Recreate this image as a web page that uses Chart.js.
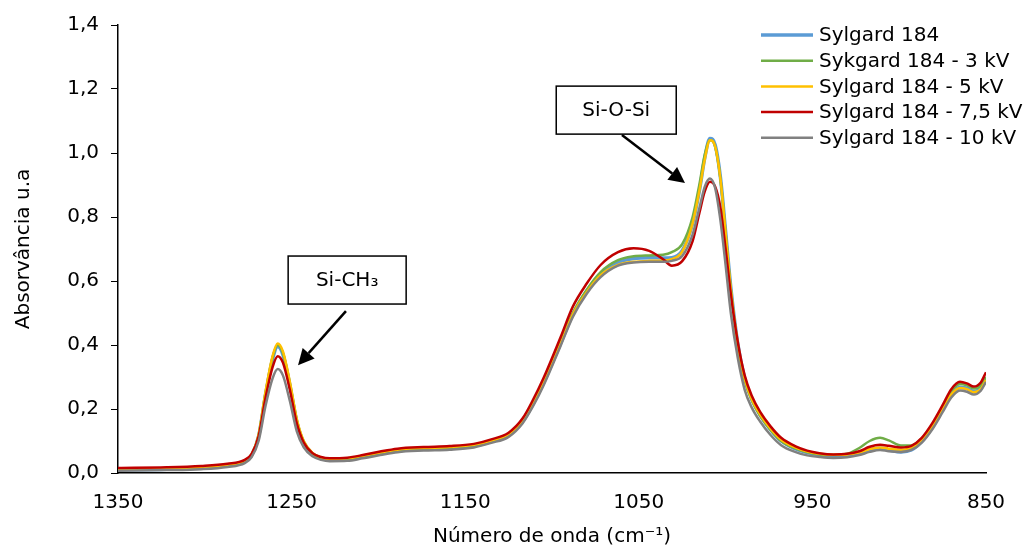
<!DOCTYPE html>
<html>
<head>
<meta charset="utf-8">
<script src="https://cdn.jsdelivr.net/npm/chart.js@4.4.0/dist/chart.umd.min.js"></script>
<style>
  html, body { margin: 0; padding: 0; background: #fff; }
  #wrap { width: 1034px; height: 551px; }
</style>
</head>
<body>
<div id="wrap"><canvas id="myChartFTIR"></canvas></div>
<script>
// FTIR spectra, wavenumber axis runs right to left
var wavenumbers = [1350, 1322, 1302, 1287, 1277, 1273, 1269, 1265, 1261, 1258,
  1255, 1251, 1247, 1243, 1238, 1233, 1228, 1218, 1209, 1199,
  1189, 1174, 1159, 1145, 1135, 1125, 1117, 1111, 1105, 1095,
  1088, 1080, 1072, 1062, 1053, 1044, 1036, 1031, 1025, 1019,
  1015, 1012, 1009, 1006, 1003, 1000, 997, 993, 989, 985,
  980, 974, 968, 960, 953, 946, 938, 930, 923, 917,
  911, 906, 899, 893, 887, 881, 875, 870, 865, 861,
  857, 853, 850];

var sylgard = [0.010, 0.012, 0.016, 0.023, 0.036, 0.056, 0.115, 0.245, 0.355, 0.395,
  0.370, 0.275, 0.160, 0.095, 0.060, 0.046, 0.041, 0.042, 0.050, 0.060,
  0.069, 0.074, 0.077, 0.084, 0.098, 0.118, 0.160, 0.215, 0.280, 0.405,
  0.495, 0.568, 0.622, 0.657, 0.670, 0.673, 0.672, 0.673, 0.695, 0.780,
  0.885, 0.985, 1.045, 1.025, 0.925, 0.755, 0.580, 0.405, 0.295, 0.232,
  0.180, 0.135, 0.100, 0.076, 0.064, 0.057, 0.054, 0.055, 0.062, 0.072,
  0.077, 0.072, 0.066, 0.072, 0.098, 0.142, 0.198, 0.245, 0.268, 0.265,
  0.255, 0.265, 0.292];

var sylgard3kV = [0.011, 0.013, 0.017, 0.024, 0.037, 0.057, 0.118, 0.250, 0.360, 0.400,
  0.375, 0.280, 0.165, 0.097, 0.061, 0.047, 0.042, 0.043, 0.051, 0.061,
  0.070, 0.075, 0.078, 0.085, 0.099, 0.119, 0.162, 0.217, 0.282, 0.408,
  0.500, 0.573, 0.628, 0.665, 0.677, 0.680, 0.682, 0.690, 0.715, 0.800,
  0.905, 0.995, 1.040, 1.020, 0.920, 0.750, 0.575, 0.400, 0.290, 0.228,
  0.178, 0.134, 0.100, 0.077, 0.065, 0.058, 0.056, 0.060, 0.078, 0.100,
  0.110, 0.102, 0.086, 0.086, 0.108, 0.150, 0.205, 0.255, 0.278, 0.274,
  0.264, 0.274, 0.300];

var sylgard5kV = [0.013, 0.015, 0.019, 0.026, 0.039, 0.059, 0.120, 0.255, 0.365, 0.405,
  0.380, 0.285, 0.168, 0.100, 0.063, 0.049, 0.044, 0.046, 0.054, 0.064,
  0.073, 0.078, 0.081, 0.088, 0.101, 0.121, 0.163, 0.218, 0.282, 0.405,
  0.495, 0.565, 0.618, 0.650, 0.660, 0.663, 0.664, 0.668, 0.692, 0.780,
  0.885, 0.980, 1.040, 1.020, 0.920, 0.750, 0.575, 0.405, 0.295, 0.232,
  0.182, 0.138, 0.104, 0.080, 0.067, 0.060, 0.057, 0.058, 0.064, 0.075,
  0.080, 0.076, 0.073, 0.078, 0.102, 0.145, 0.198, 0.245, 0.266, 0.262,
  0.252, 0.262, 0.290];

var sylgard7_5kV = [0.016, 0.018, 0.022, 0.029, 0.041, 0.060, 0.115, 0.235, 0.330, 0.365,
  0.345, 0.260, 0.155, 0.095, 0.062, 0.050, 0.046, 0.048, 0.056, 0.067,
  0.076, 0.081, 0.084, 0.091, 0.105, 0.126, 0.170, 0.228, 0.295, 0.425,
  0.520, 0.592, 0.650, 0.690, 0.702, 0.694, 0.668, 0.648, 0.662, 0.725,
  0.815, 0.880, 0.910, 0.895, 0.830, 0.700, 0.560, 0.410, 0.305, 0.242,
  0.190, 0.145, 0.110, 0.084, 0.070, 0.062, 0.058, 0.060, 0.068, 0.082,
  0.088, 0.085, 0.080, 0.085, 0.110, 0.155, 0.212, 0.262, 0.285, 0.280,
  0.270, 0.283, 0.315];

var sylgard10kV = [0.007, 0.009, 0.012, 0.019, 0.031, 0.050, 0.100, 0.210, 0.295, 0.325,
  0.305, 0.225, 0.130, 0.080, 0.052, 0.041, 0.037, 0.038, 0.046, 0.056,
  0.065, 0.070, 0.073, 0.080, 0.094, 0.113, 0.155, 0.208, 0.272, 0.398,
  0.488, 0.560, 0.612, 0.648, 0.658, 0.660, 0.660, 0.663, 0.678, 0.745,
  0.830, 0.895, 0.920, 0.890, 0.790, 0.650, 0.500, 0.360, 0.260, 0.205,
  0.160, 0.118, 0.087, 0.066, 0.055, 0.050, 0.047, 0.049, 0.056, 0.066,
  0.072, 0.068, 0.066, 0.072, 0.095, 0.136, 0.190, 0.236, 0.258, 0.254,
  0.245, 0.257, 0.285];

var seriesNames = ["Sylgard 184", "Sykgard 184 - 3 kV", "Sylgard 184 - 5 kV", "Sylgard 184 - 7,5 kV", "Sylgard 184 - 10 kV"];
var seriesColors = ["#5B9BD5", "#70AD47", "#FFC000", "#C00000", "#808080"];

var xTickLabels = ["850", "950", "1050", "1150", "1250", "1350"];
var yTickLabels = ["0,0", "0,2", "0,4", "0,6", "0,8", "1,0", "1,2", "1,4"];

// annotation boxes, anchored in data units (wavenumber, absorbance)
var notes = [
  { text: "Si-CH\u2083", box: [1218, 0.603], from: [1218.7, 0.506], to: [1246.3, 0.337], w: 118, h: 48 },
  { text: "Si-O-Si", box: [1063, 1.134], from: [1059.7, 1.056], to: [1023.4, 0.906], w: 120, h: 48 }
];

var FONT = "'DejaVu Sans', sans-serif";

function toPoints(ys) {
  return ys.map(function (y, i) { return { x: wavenumbers[i], y: y }; });
}

var allSeries = [sylgard, sylgard3kV, sylgard5kV, sylgard7_5kV, sylgard10kV];
var datasets = allSeries.map(function (ys, i) {
  return {
    label: seriesNames[i],
    data: toPoints(ys),
    borderColor: seriesColors[i],
    backgroundColor: seriesColors[i],
    borderWidth: i === 0 ? 3.5 : 2.5,
    pointRadius: 0,
    cubicInterpolationMode: 'monotone',
    fill: false,
    order: 4 - i
  };
});

var legendPlugin = {
  id: 'sideLegend',
  afterDraw: function (chart) {
    var ctx = chart.ctx;
    ctx.save();
    ctx.font = "20px " + FONT;
    ctx.textBaseline = 'middle';
    ctx.textAlign = 'left';
    chart.data.datasets.forEach(function (ds, i) {
      var y = 35 + i * 25.7;
      ctx.strokeStyle = ds.borderColor;
      ctx.lineWidth = ds.borderWidth;
      ctx.beginPath();
      ctx.moveTo(761, y);
      ctx.lineTo(813, y);
      ctx.stroke();
      ctx.fillStyle = '#000';
      ctx.fillText(ds.label, 819, y + 1);
    });
    ctx.restore();
  }
};

var notePlugin = {
  id: 'notes',
  afterDraw: function (chart) {
    var ctx = chart.ctx;
    var xs = chart.scales.x, ys = chart.scales.y;
    ctx.save();
    notes.forEach(function (n) {
      var cx = xs.getPixelForValue(n.box[0]);
      var cy = ys.getPixelForValue(n.box[1]);
      ctx.fillStyle = '#fff';
      ctx.fillRect(cx - n.w / 2, cy - n.h / 2, n.w, n.h);
      ctx.strokeStyle = '#000';
      ctx.lineWidth = 1.5;
      ctx.strokeRect(cx - n.w / 2, cy - n.h / 2, n.w, n.h);
      ctx.fillStyle = '#000';
      ctx.font = "20px " + FONT;
      ctx.textAlign = 'center';
      ctx.textBaseline = 'middle';
      ctx.fillText(n.text, cx, cy + 1);

      // arrow
      var x1 = xs.getPixelForValue(n.from[0]), y1 = ys.getPixelForValue(n.from[1]);
      var x2 = xs.getPixelForValue(n.to[0]), y2 = ys.getPixelForValue(n.to[1]);
      var ang = Math.atan2(y2 - y1, x2 - x1);
      var head = 16, half = 8;
      var bx = x2 - head * Math.cos(ang), by = y2 - head * Math.sin(ang);
      ctx.lineWidth = 2.5;
      ctx.beginPath();
      ctx.moveTo(x1, y1);
      ctx.lineTo(bx, by);
      ctx.stroke();
      ctx.beginPath();
      ctx.moveTo(x2, y2);
      ctx.lineTo(bx + half * Math.sin(ang), by - half * Math.cos(ang));
      ctx.lineTo(bx - half * Math.sin(ang), by + half * Math.cos(ang));
      ctx.closePath();
      ctx.fill();
    });
    ctx.restore();
  }
};

var ctx = document.getElementById("myChartFTIR").getContext('2d');
var chart = new Chart(ctx, {
  type: 'line',
  data: { datasets: datasets },
  options: {
    responsive: true,
    maintainAspectRatio: false,
    animation: false,
    layout: { padding: { top: 25, right: 48, left: 0, bottom: 0 } },
    plugins: {
      legend: { display: false },
      tooltip: { enabled: false }
    },
    scales: {
      x: {
        type: 'linear',
        reverse: true,
        min: 850,
        max: 1350,
        afterFit: function (s) { s.height = 78; },
        afterBuildTicks: function (s) {
          s.ticks = xTickLabels.map(function (t) { return { value: Number(t) }; });
        },
        ticks: {
          font: { family: FONT, size: 20 },
          color: '#000',
          padding: 18,
          maxRotation: 0,
          callback: function (v) { return String(v); }
        },
        grid: { display: false, drawTicks: false },
        border: { display: true, color: '#000', width: 1.5 },
        title: {
          display: true,
          text: 'Número de onda (cm\u207B\u00B9)',
          font: { family: FONT, size: 20 },
          color: '#000',
          padding: { top: 4, bottom: 2 }
        }
      },
      y: {
        min: 0,
        max: 1.4,
        afterFit: function (s) { s.width = 118; },
        ticks: {
          stepSize: 0.2,
          font: { family: FONT, size: 20 },
          color: '#000',
          padding: 12,
          callback: function (v, i) { return yTickLabels[i]; }
        },
        grid: { drawOnChartArea: false, drawTicks: true, tickLength: 7, color: '#000' },
        border: { display: true, color: '#000', width: 1.5 },
        title: {
          display: true,
          text: 'Absorvância u.a',
          font: { family: FONT, size: 20 },
          color: '#000',
          padding: { top: 12, bottom: 0 }
        }
      }
    }
  },
  plugins: [legendPlugin, notePlugin]
});
</script>
</body>
</html>
